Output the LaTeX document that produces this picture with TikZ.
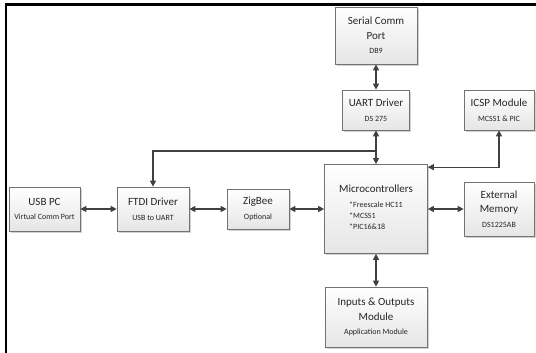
\documentclass[tikz,border=0pt]{standalone}
\usepackage{fontspec}
\setmainfont{Carlito}
\usetikzlibrary{arrows.meta,positioning,shadows}

\newcommand{\subtxt}{\fontsize{8}{10.5}\selectfont}

\begin{document}
\begin{tikzpicture}[
  x=1pt,y=-1pt,
  every node/.style={font=\fontsize{11}{14.5}\selectfont,text=black!85},
  block/.style={draw=black!55,line width=.7pt,top color=white,bottom color=black!10,
                align=center,inner sep=0pt,
                drop shadow={shadow xshift=1.6pt,shadow yshift=-1.6pt,opacity=.3,fill=black!60}},
  link/.style={draw=black!75,line width=1.3pt,
               {Triangle[length=6pt,width=6pt]}-{Triangle[length=6pt,width=6pt]}},
  feed/.style={draw=black!75,line width=1.3pt,-{Triangle[length=6pt,width=6pt]}}
]
\useasboundingbox (0,0) rectangle (536,353);
\draw[line width=2.6pt] (6,353) -- (6,4.5) -- (536,4.5);

\node[block,minimum width=82pt,minimum height=57pt] (serial) at (376,35.5)
  {Serial Comm\\Port\\{\subtxt DB9}};
\node[block,minimum width=67pt,minimum height=40pt] (uart) at (376,110)
  {UART Driver\\{\subtxt DS 275}};
\node[block,minimum width=70pt,minimum height=40pt] (icsp) at (499,110)
  {ICSP Module\\{\subtxt MCSS1 \& PIC}};
\node[block,minimum width=103pt,minimum height=89pt] (micro) at (376,209)
  {Microcontrollers\\{\subtxt\def\arraystretch{1.05}%
   \begin{tabular}[t]{@{}l@{}}{*}Freescale HC11\\{*}MCSS1\\{*}PIC16\&18\end{tabular}}};
\node[block,minimum width=70pt,minimum height=54pt] (extmem) at (499,209)
  {External\\Memory\\{\subtxt DS1225AB}};
\node[block,minimum width=71pt,minimum height=44pt] (usbpc) at (44.5,209)
  {USB PC\\{\subtxt Virtual Comm Port}};
\node[block,minimum width=72pt,minimum height=44pt] (ftdi) at (153,209)
  {FTDI Driver\\{\subtxt USB to UART}};
\node[block,minimum width=62pt,minimum height=40pt] (zigbee) at (258,209)
  {ZigBee\\{\subtxt Optional}};
\node[block,minimum width=102pt,minimum height=60pt] (io) at (376,317)
  {Inputs \& Outputs\\Module\\{\subtxt Application Module}};

\coordinate (jn) at (376,151);

\draw[link] (serial) -- (uart);
\draw[link] (uart) -- (micro);
\draw[feed] (jn) -| (ftdi.north);
\draw[link] (icsp.south) |- ([yshift=-3pt]micro.north east);
\draw[link] (usbpc) -- (ftdi);
\draw[link] (ftdi) -- (zigbee);
\draw[link] (zigbee) -- (micro);
\draw[link] (micro) -- (extmem);
\draw[link] (micro) -- (io);
\end{tikzpicture}
\end{document}
